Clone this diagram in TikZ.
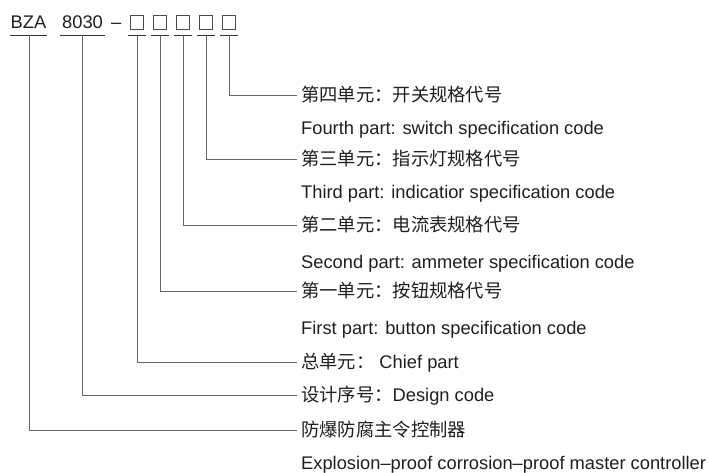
\documentclass[tikz,border=0pt]{standalone}
\usepackage{fontspec}
\setmainfont{Liberation Sans}
\newfontfamily\cjk{Noto Sans CJK SC}
\begin{document}
\begin{tikzpicture}[x=1pt,y=-1pt,
  txt/.style={font=\fontsize{18.3}{20}\selectfont, text=black!88, inner sep=0pt},
  cn/.style={txt, anchor=west, inner xsep=4pt, text height=16pt, text depth=2.2pt},
  en/.style={txt, anchor=base west},
  slot/.style={draw=black!70, line width=0.8pt, minimum width=12.5pt, minimum height=13.5pt, inner sep=0pt},
  uline/.style={draw=black!80, line width=0.9pt},
  conn/.style={draw=black!60, line width=0.9pt}]
\useasboundingbox (0,0) rectangle (709,473);
% top code
\node[txt, anchor=base west] (bza) at (10.5,29) {BZA};
\node[txt, anchor=base west] (num) at (62,29) {8030};
\node[txt, anchor=base west] (dash) at (111,29) {–};
\node[slot] (b1) at (137,22.5) {};
\node[slot] (b2) at (160,22.5) {};
\node[slot] (b3) at (183,22.5) {};
\node[slot] (b4) at (206,22.5) {};
\node[slot] (b5) at (229,22.5) {};
% underline anchor points
\coordinate (u0) at (29,35.5);
\coordinate (un) at (82.5,35.5);
\coordinate (u1) at (137,35.5);
\coordinate (u2) at (160,35.5);
\coordinate (u3) at (183,35.5);
\coordinate (u4) at (206,35.5);
\coordinate (u5) at (229,35.5);
\draw[uline] (10,35.5) -- (47,35.5);
\draw[uline] (60,35.5) -- (105,35.5);
\foreach \u in {u1,u2,u3,u4,u5}{
  \draw[uline] ([xshift=-9pt]\u) -- ([xshift=9pt]\u);
}
% labels
\node[cn] (c5) at (297,95) {{\cjk 第四单元：开关规格代号}};
\node[en] (e5) at (301,134.5) {Fourth part: switch specification code};
\node[cn] (c4) at (297,159) {{\cjk 第三单元：指示灯规格代号}};
\node[en] (e4) at (301,199) {Third part: indicatior specification code};
\node[cn] (c3) at (297,225) {{\cjk 第二单元：电流表规格代号}};
\node[en] (e3) at (301,268) {Second part: ammeter specification code};
\node[cn] (c2) at (297,291) {{\cjk 第一单元：按钮规格代号}};
\node[en] (e2) at (301,334) {First part: button specification code};
\node[cn] (c1) at (297,362) {{\cjk 总单元：} Chief part};
\node[cn] (cn) at (297,395) {{\cjk 设计序号：}Design code};
\node[cn] (c0) at (297,430) {{\cjk 防爆防腐主令控制器}};
\node[en] (e0) at (301,469.5) {Explosion–proof corrosion–proof master controller};
% connectors
\draw[conn] (u5) |- (c5.west);
\draw[conn] (u4) |- (c4.west);
\draw[conn] (u3) |- (c3.west);
\draw[conn] (u2) |- (c2.west);
\draw[conn] (u1) |- (c1.west);
\draw[conn] (un) |- (cn.west);
\draw[conn] (u0) |- (c0.west);
\end{tikzpicture}
\end{document}
